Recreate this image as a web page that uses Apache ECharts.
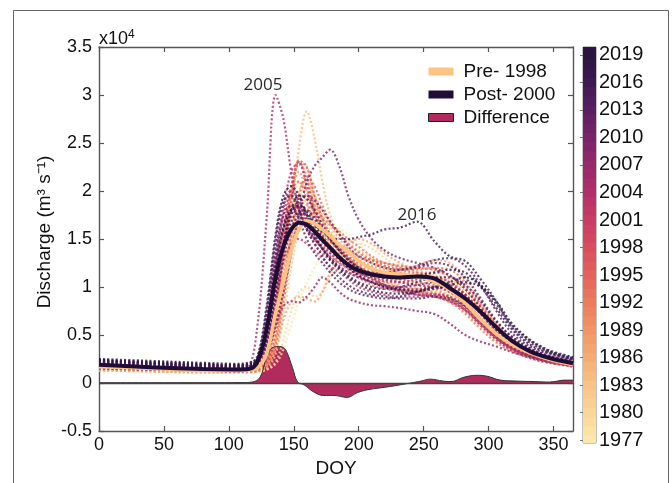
<!DOCTYPE html>
<html><head><meta charset="utf-8">
<script src="https://cdn.jsdelivr.net/npm/echarts@6/dist/echarts.min.js"></script>
<style>html,body{margin:0;padding:0;background:#fff}#c{width:672px;height:483px}</style>
</head><body><div id="c"></div>
<script>
// ---------- data ----------
const D = [0,40,80,105,115, 122,129,136,142,148,154,160,166,172,178,185,192, 200,210,220,232,245,258,270, 282,294,306,318,332,347,365];
const preMean  = [0.17,0.15,0.13,0.13,0.135, 0.16,0.3,0.73,1.05,1.38,1.6,1.69,1.66,1.6,1.53,1.44,1.37, 1.27,1.19,1.15,1.13,1.11,1.06,0.97, 0.83,0.66,0.51,0.4,0.31,0.245,0.19];
const postMean = [0.19,0.165,0.145,0.14,0.145, 0.22,0.55,1.1,1.42,1.6,1.67,1.65,1.58,1.49,1.41,1.31,1.23, 1.17,1.13,1.11,1.10,1.11,1.09,0.99, 0.88,0.74,0.58,0.44,0.33,0.26,0.205];
const diffDoy = [0,60,110,118,124,128,131,134,138,142, 145,149,153,158,165,173,181,191,199,207, 217,227,240,248,255,265,271,281,291,299, 309,322,335,347,359,365];
const diffVal = [0.003,0.003,0.004,0.01,0.06,0.23,0.33,0.37,0.38,0.37, 0.31,0.16,0.01,-0.02,-0.09,-0.13,-0.13,-0.15,-0.1,-0.07, -0.05,-0.03,0.0,0.02,0.04,0.02,0.015,0.06,0.08,0.07, 0.03,0.02,0.015,0.01,0.03,0.03];

const y1977 = [0.13,0.12,0.11,0.11,0.11, 0.12,0.14,0.2,0.35,0.6,0.85,1.05,1.2,1.35,1.5,1.6,1.55, 1.45,1.3,1.2,1.1,1.0,0.95,0.88, 0.78,0.62,0.48,0.36,0.27,0.21,0.17];
const y1978 = [0.14,0.13,0.12,0.12,0.12, 0.13,0.18,0.4,0.9,1.4,1.75,1.9,1.8,1.65,1.5,1.4,1.3, 1.22,1.15,1.12,1.1,1.05,1.0,0.92, 0.8,0.64,0.5,0.38,0.29,0.23,0.18];
const y1979 = [0.15,0.14,0.13,0.12,0.13, 0.14,0.2,0.5,1.1,1.7,2.1,2.0,1.8,1.6,1.45,1.35,1.3, 1.25,1.2,1.15,1.1,1.08,1.05,0.98, 0.85,0.68,0.52,0.4,0.3,0.24,0.19];
const y1980 = [0.14,0.13,0.12,0.12,0.12, 0.12,0.14,0.22,0.45,0.75,0.95,1.0,0.9,0.95,1.1,1.28,1.4, 1.45,1.4,1.3,1.2,1.15,1.1,1.05, 0.95,0.8,0.62,0.45,0.32,0.24,0.19];
const y1981 = [0.16,0.15,0.14,0.13,0.14, 0.16,0.3,0.75,1.3,1.75,1.95,1.85,1.65,1.5,1.4,1.3,1.22, 1.15,1.1,1.05,1.0,0.98,0.95,0.88, 0.75,0.58,0.43,0.33,0.26,0.21,0.18];
const y1982 = [0.13,0.12,0.11,0.11,0.11, 0.12,0.15,0.3,0.7,1.2,1.6,1.8,1.75,1.7,1.65,1.55,1.45, 1.35,1.25,1.2,1.15,1.12,1.12,1.08, 0.98,0.8,0.6,0.44,0.32,0.25,0.2];
const y1983 = [0.15,0.14,0.13,0.12,0.12, 0.13,0.17,0.35,0.8,1.4,1.9,2.05,1.9,1.75,1.6,1.45,1.35, 1.3,1.28,1.25,1.22,1.2,1.18,1.1, 0.95,0.75,0.56,0.42,0.31,0.24,0.19];
const y1984 = [0.16,0.15,0.13,0.13,0.13, 0.14,0.2,0.5,1.1,1.8,2.45,2.83,2.55,2.1,1.75,1.55,1.45, 1.38,1.3,1.22,1.15,1.1,1.05,0.98, 0.85,0.68,0.5,0.38,0.29,0.23,0.19];
const y1985 = [0.17,0.15,0.14,0.13,0.14, 0.16,0.28,0.65,1.1,1.5,1.7,1.72,1.65,1.55,1.45,1.35,1.28, 1.2,1.15,1.12,1.13,1.15,1.12,1.02, 0.86,0.66,0.48,0.36,0.27,0.22,0.18];
const y1986 = [0.15,0.14,0.13,0.13,0.13, 0.14,0.19,0.42,0.95,1.6,2.0,2.1,1.95,1.8,1.65,1.5,1.4, 1.32,1.25,1.2,1.18,1.22,1.28,1.25, 1.1,0.85,0.62,0.45,0.33,0.26,0.21];
const y1987 = [0.14,0.13,0.12,0.12,0.12, 0.14,0.22,0.55,1.15,1.85,2.3,2.25,1.95,1.7,1.5,1.38,1.3, 1.22,1.15,1.08,1.02,0.98,0.95,0.9, 0.8,0.64,0.48,0.36,0.27,0.22,0.18];
const y1988 = [0.13,0.12,0.11,0.11,0.11, 0.12,0.16,0.35,0.65,0.85,0.9,0.88,0.85,0.95,1.15,1.35,1.45, 1.5,1.45,1.35,1.25,1.15,1.05,0.95, 0.82,0.65,0.48,0.36,0.27,0.22,0.18];
const y1989 = [0.16,0.15,0.14,0.13,0.13, 0.15,0.25,0.65,1.3,1.95,2.2,2.0,1.75,1.6,1.5,1.42,1.35, 1.28,1.22,1.18,1.15,1.12,1.1,1.05, 0.92,0.72,0.53,0.4,0.3,0.24,0.19];
const y1990 = [0.15,0.14,0.13,0.12,0.13, 0.14,0.2,0.45,0.95,1.5,1.85,1.95,1.85,1.7,1.55,1.42,1.32, 1.22,1.12,1.05,1.0,0.95,0.9,0.84, 0.74,0.6,0.46,0.35,0.27,0.22,0.18];
const y1991 = [0.17,0.16,0.14,0.14,0.14, 0.16,0.3,0.8,1.5,2.05,2.3,2.15,1.85,1.62,1.48,1.38,1.3, 1.22,1.15,1.1,1.05,1.02,0.98,0.9, 0.76,0.6,0.46,0.35,0.27,0.22,0.18];
const y1992 = [0.16,0.15,0.14,0.13,0.14, 0.17,0.35,0.9,1.45,1.8,1.85,1.7,1.55,1.45,1.38,1.3,1.22, 1.15,1.08,1.02,0.98,0.95,0.92,0.85, 0.72,0.56,0.42,0.33,0.26,0.21,0.18];
const y1993 = [0.15,0.14,0.13,0.12,0.12, 0.13,0.17,0.4,0.85,1.35,1.7,1.85,1.8,1.72,1.65,1.58,1.5, 1.42,1.32,1.25,1.2,1.18,1.2,1.18, 1.05,0.82,0.6,0.44,0.33,0.26,0.21];
const y1994 = [0.17,0.16,0.15,0.14,0.15, 0.18,0.4,1.0,1.6,2.0,2.1,1.9,1.65,1.48,1.35,1.25,1.18, 1.1,1.02,0.98,0.95,0.93,0.92,0.88, 0.78,0.62,0.47,0.36,0.28,0.22,0.18];
const y1995 = [0.16,0.15,0.14,0.13,0.13, 0.15,0.22,0.5,1.0,1.55,1.95,2.15,2.05,1.85,1.68,1.55,1.45, 1.36,1.28,1.22,1.18,1.15,1.15,1.12, 1.0,0.8,0.6,0.45,0.34,0.27,0.21];
const y1996 = [0.18,0.17,0.15,0.14,0.15, 0.17,0.3,0.75,1.35,1.9,2.32,2.25,1.95,1.72,1.55,1.45,1.38, 1.32,1.28,1.25,1.22,1.2,1.18,1.12, 0.98,0.78,0.58,0.44,0.33,0.26,0.21];
const y1997 = [0.17,0.16,0.14,0.14,0.14, 0.16,0.27,0.7,1.4,2.0,2.28,2.1,1.8,1.6,1.48,1.4,1.32, 1.25,1.18,1.12,1.08,1.05,1.02,0.95, 0.82,0.64,0.48,0.37,0.28,0.23,0.19];
const y2001 = [0.18,0.16,0.15,0.14,0.15, 0.2,0.5,1.1,1.6,1.85,1.8,1.6,1.45,1.35,1.28,1.2,1.15, 1.1,1.05,1.0,0.97,0.95,0.93,0.88, 0.78,0.62,0.47,0.36,0.28,0.23,0.19];
const y2002 = [0.2,0.18,0.16,0.15,0.16, 0.22,0.6,1.3,1.75,1.95,1.85,1.65,1.5,1.4,1.32,1.25,1.2, 1.14,1.1,1.06,1.05,1.08,1.1,1.05, 0.92,0.72,0.54,0.4,0.3,0.24,0.2];
const y2003 = [0.17,0.15,0.14,0.13,0.14, 0.18,0.4,0.85,1.25,1.45,1.5,1.45,1.38,1.3,1.22,1.15,1.08, 1.0,0.95,0.92,0.9,0.9,0.92,0.9, 0.8,0.64,0.48,0.36,0.28,0.22,0.18];
const y2004 = [0.19,0.17,0.15,0.14,0.15, 0.2,0.55,1.2,1.8,2.2,2.3,2.05,1.75,1.55,1.42,1.32,1.25, 1.18,1.12,1.08,1.05,1.02,1.0,0.95, 0.84,0.67,0.5,0.38,0.29,0.23,0.19];
const y2005 = [0.15,0.14,0.13,0.13,0.16, 0.6,1.7,3.0,2.75,2.2,1.8,1.6,1.5,1.42,1.35,1.28,1.2, 1.12,1.05,1.0,0.95,0.92,0.9,0.86, 0.76,0.6,0.45,0.34,0.26,0.21,0.17];
const y2006 = [0.2,0.18,0.16,0.15,0.16, 0.22,0.55,1.15,1.6,1.8,1.82,1.75,1.6,1.48,1.38,1.3,1.22, 1.15,1.08,1.02,0.98,0.98,1.0,0.98, 0.9,0.74,0.56,0.42,0.32,0.25,0.2];
const y2007 = [0.18,0.16,0.15,0.14,0.15, 0.19,0.42,0.95,1.45,1.75,1.85,1.8,1.7,1.6,1.5,1.4,1.3, 1.2,1.1,1.02,0.96,0.92,0.9,0.85, 0.76,0.62,0.47,0.36,0.28,0.23,0.19];
const y2008 = [0.16,0.14,0.13,0.12,0.13, 0.16,0.3,0.6,0.8,0.85,0.84,0.9,1.0,1.1,1.05,0.95,0.88, 0.84,0.81,0.8,0.78,0.75,0.72,0.62, 0.5,0.43,0.38,0.32,0.27,0.22,0.18];
const y2009 = [0.21,0.19,0.17,0.16,0.17, 0.25,0.7,1.4,1.85,2.0,1.9,1.7,1.52,1.4,1.3,1.22,1.15, 1.1,1.05,1.02,1.0,1.02,1.05,1.02, 0.92,0.75,0.57,0.43,0.32,0.26,0.21];
const y2010 = [0.17,0.15,0.14,0.13,0.14, 0.17,0.3,0.6,0.95,1.35,1.75,2.09,2.26,2.35,2.43,2.26,1.95, 1.7,1.5,1.38,1.3,1.25,1.2,1.12, 0.98,0.78,0.58,0.44,0.33,0.26,0.21];
const y2011 = [0.22,0.2,0.18,0.17,0.18, 0.24,0.5,1.0,1.45,1.75,1.9,1.95,1.9,1.8,1.68,1.55,1.42, 1.32,1.25,1.2,1.18,1.2,1.25,1.22, 1.1,0.88,0.65,0.48,0.36,0.28,0.23];
const y2012 = [0.2,0.18,0.16,0.15,0.16, 0.23,0.65,1.35,1.75,1.85,1.7,1.5,1.35,1.25,1.15,1.05,0.98, 0.93,0.9,0.88,0.9,0.95,1.0,0.98, 0.88,0.72,0.55,0.42,0.32,0.25,0.21];
const y2013 = [0.23,0.2,0.18,0.17,0.18, 0.22,0.4,0.85,1.3,1.6,1.75,1.8,1.72,1.62,1.5,1.38,1.28, 1.2,1.15,1.15,1.18,1.22,1.28,1.3, 1.22,1.02,0.75,0.52,0.38,0.3,0.24];
const y2014 = [0.22,0.2,0.17,0.16,0.17, 0.26,0.75,1.5,1.9,1.95,1.8,1.6,1.45,1.32,1.2,1.1,1.02, 0.96,0.92,0.9,0.88,0.88,0.9,0.88, 0.8,0.66,0.5,0.39,0.3,0.25,0.21];
const y2015 = [0.21,0.19,0.17,0.16,0.17, 0.24,0.62,1.25,1.65,1.8,1.75,1.62,1.5,1.4,1.3,1.2,1.12, 1.05,1.0,0.98,1.0,1.05,1.1,1.1, 1.02,0.85,0.64,0.48,0.36,0.28,0.23];
const y2016 = [0.24,0.21,0.19,0.18,0.19, 0.25,0.55,1.05,1.45,1.68,1.78,1.75,1.65,1.58,1.52,1.5,1.5, 1.52,1.55,1.6,1.62,1.68,1.48,1.32, 1.27,1.08,0.85,0.58,0.42,0.32,0.25];
const y2017 = [0.23,0.21,0.19,0.18,0.19, 0.23,0.45,0.95,1.45,1.8,1.95,1.92,1.8,1.65,1.5,1.38,1.28, 1.2,1.14,1.1,1.1,1.12,1.15,1.18, 1.15,1.0,0.78,0.56,0.4,0.31,0.25];
const y2018 = [0.24,0.22,0.2,0.19,0.2, 0.28,0.8,1.55,1.95,2.05,1.95,1.75,1.55,1.4,1.28,1.18,1.1, 1.03,0.97,0.94,0.93,0.95,1.0,1.05, 1.1,1.02,0.82,0.6,0.44,0.33,0.26];
const y2019 = [0.25,0.23,0.21,0.2,0.21, 0.26,0.6,1.2,1.6,1.8,1.85,1.78,1.65,1.52,1.4,1.3,1.2, 1.12,1.05,1.0,0.97,0.96,0.98,1.02, 1.05,1.0,0.85,0.62,0.45,0.34,0.27];

const yearRows = [
  [1977,y1977],[1978,y1978],[1979,y1979],[1980,y1980],[1981,y1981],[1982,y1982],[1983,y1983],
  [1984,y1984],[1985,y1985],[1986,y1986],[1987,y1987],[1988,y1988],[1989,y1989],[1990,y1990],
  [1991,y1991],[1992,y1992],[1993,y1993],[1994,y1994],[1995,y1995],[1996,y1996],[1997,y1997],
  [2001,y2001],[2002,y2002],[2003,y2003],[2004,y2004],[2005,y2005],[2006,y2006],[2007,y2007],
  [2008,y2008],[2009,y2009],[2010,y2010],[2011,y2011],[2012,y2012],[2013,y2013],[2014,y2014],
  [2015,y2015],[2016,y2016],[2017,y2017],[2018,y2018],[2019,y2019]
];

const xTicks = [0,50,100,150,200,250,300,350];
const yTicks = [-0.5,0,0.5,1,1.5,2,2.5,3,3.5];
const cbTicks = [1977,1980,1983,1986,1989,1992,1995,1998,2001,2004,2007,2010,2013,2016,2019];
const cbYears = [];
for (let y = 1977; y <= 2019; y++) cbYears.push(y);
const cmapStops = ['#fbe9ab','#fad698','#f8c385','#f5ac74','#f19565','#ec7c5c','#e3625a','#d94d5f','#c93c66','#b2306a','#962a6a','#7a2468','#5a1f62','#3d1a52','#2a1540'];

// ---------- helpers ----------
function hex(c){return [parseInt(c.slice(1,3),16),parseInt(c.slice(3,5),16),parseInt(c.slice(5,7),16)];}
function cmap(year, alpha){
  let t = (year-1977)/(2019-1977); t = Math.max(0, Math.min(1, t));
  const f = t*(cmapStops.length-1); const i = Math.min(Math.floor(f), cmapStops.length-2); const u = f-i;
  const a = hex(cmapStops[i]), b = hex(cmapStops[i+1]);
  const r = a.map((v,k)=>Math.round(v+(b[k]-v)*u));
  return alpha==null ? 'rgb('+r.join(',')+')' : 'rgba('+r.join(',')+','+alpha+')';
}
const pairs = (xs, ys) => xs.map((x,i)=>[x, ys[i]]);

const FONT = 'Liberation Sans, Arial, Helvetica, sans-serif';
const AX = '#555';

const series = [];
yearRows.forEach(([yr, vals]) => {
  series.push({
    name: String(yr), type: 'line', xAxisIndex: 0, yAxisIndex: 0,
    data: pairs(D, vals), smooth: 0.35, symbol: 'none', silent: true,
    lineStyle: {color: cmap(yr, 0.8), width: 2.2, type: [2, 2.2]}
  });
});
series.push({
  name: 'Difference', type: 'line', xAxisIndex: 0, yAxisIndex: 0,
  data: pairs(diffDoy, diffVal), smooth: 0.4, symbol: 'none',
  itemStyle: {color: '#b22b5d'},
  lineStyle: {color: '#333', width: 1},
  areaStyle: {color: '#b22b5d', opacity: 1},
  markLine: {silent: true, symbol: 'none', label: {show: false},
    lineStyle: {color: '#444', width: 1.3, type: 'solid'}, data: [{yAxis: 0}]}
});
series.push({
  name: 'Pre- 1998', type: 'line', xAxisIndex: 0, yAxisIndex: 0,
  data: pairs(D, preMean), smooth: 0.35, symbol: 'none',
  itemStyle: {color: '#fcc383'}, lineStyle: {color: '#fcc383', width: 3.5}
});
series.push({
  name: 'Post- 2000', type: 'line', xAxisIndex: 0, yAxisIndex: 0,
  data: pairs(D, postMean), smooth: 0.35, symbol: 'none',
  itemStyle: {color: '#1f0d35'}, lineStyle: {color: '#1f0d35', width: 4}
});
series.push({
  name: 'colorbar', type: 'custom', xAxisIndex: 2, yAxisIndex: 2, clip: true, silent: true,
  data: cbYears.map(y => [0, y]), encode: {x: 0, y: 1},
  renderItem: function(params, api){
    const yr = api.value(1);
    const p0 = api.coord([0, yr - 0.5]);
    const p1 = api.coord([1, yr + 1]);
    return {type: 'rect', shape: {x: p0[0], y: p1[1], width: p1[0]-p0[0], height: p0[1]-p1[1]},
      style: {fill: cmap(yr)}};
  }
});

const baseX = {
  type: 'value', min: 0, max: 365, gridIndex: 0,
  axisLine: {show: true, onZero: false, lineStyle: {color: AX, width: 1.4}},
  axisTick: {show: true, inside: true, length: 5, customValues: xTicks, lineStyle: {color: AX, width: 1.2}},
  splitLine: {show: false}
};
const baseY = {
  type: 'value', min: -0.5, max: 3.5, gridIndex: 0,
  axisLine: {show: true, onZero: false, lineStyle: {color: AX, width: 1.4}},
  axisTick: {show: true, inside: true, length: 5, customValues: yTicks, lineStyle: {color: AX, width: 1.2}},
  splitLine: {show: false}
};

const option = {
  animation: false,
  backgroundColor: '#fff',
  textStyle: {fontFamily: FONT},
  grid: [
    {left: 99, top: 47, width: 474, height: 396, show: false},
    {left: 583, top: 47, width: 13, height: 396, show: true, borderColor: '#888', borderWidth: 1, backgroundColor: 'transparent'}
  ],
  xAxis: [
    Object.assign({}, baseX, {position: 'bottom',
      axisLabel: {show: true, customValues: xTicks, fontSize: 18, color: '#111', margin: 5, fontFamily: FONT},
      name: 'DOY', nameLocation: 'middle', nameGap: 28,
      nameTextStyle: {fontSize: 19, color: '#111', fontFamily: FONT}}),
    Object.assign({}, baseX, {position: 'top', axisLabel: {show: false}}),
    {type: 'value', min: 0, max: 1, gridIndex: 1, show: false}
  ],
  yAxis: [
    Object.assign({}, baseY, {position: 'left',
      axisLabel: {show: true, customValues: yTicks, fontSize: 18, color: '#111', margin: 7, fontFamily: FONT}}),
    Object.assign({}, baseY, {position: 'right', axisLabel: {show: false}}),
    {type: 'value', min: 1976.7, max: 2019.85, gridIndex: 1, position: 'right',
      axisLine: {show: false},
      axisTick: {show: true, inside: true, length: 3, customValues: cbTicks, lineStyle: {color: '#777'}},
      axisLabel: {show: true, customValues: cbTicks, fontSize: 20, color: '#111', margin: 3, fontFamily: FONT,
        formatter: function(v){ return String(Math.round(v)); }},
      splitLine: {show: false}}
  ],
  legend: {
    orient: 'vertical', left: 428, top: 62, padding: 0,
    itemWidth: 25, itemHeight: 8, itemGap: 4, icon: 'rect',
    textStyle: {fontSize: 19, color: '#111', fontFamily: FONT, padding: [0, 0, 0, 5]},
    data: [
      {name: 'Pre- 1998', itemStyle: {color: '#fcc383'}},
      {name: 'Post- 2000', itemStyle: {color: '#1f0d35'}},
      {name: 'Difference', itemStyle: {color: '#b22b5d', borderColor: '#222', borderWidth: 1}}
    ]
  },
  graphic: [
    {type: 'rect', silent: true, z: -10, shape: {x: 13.5, y: 10.5, width: 655, height: 480},
      style: {fill: 'none', stroke: '#666', lineWidth: 1}},
    {type: 'text', silent: true, x: 99, y: 29,
      style: {text: '{a|x10}{b|4}', rich: {a: {fontSize: 18, fontFamily: FONT, fill: '#111'},
        b: {fontSize: 12, fontFamily: FONT, fill: '#111', verticalAlign: 'top', padding: [0,0,8,0]}}}},
    {type: 'text', silent: true, x: 45, y: 232, rotation: Math.PI/2,
      style: {text: 'Discharge (m³ s⁻¹)', fontSize: 19, fontFamily: FONT, fill: '#111',
        textAlign: 'center', textVerticalAlign: 'middle'}},
    {type: 'text', silent: true, x: 263, y: 85,
      style: {text: '2005', fontSize: 17, fontFamily: 'Open Sans, Noto Sans, sans-serif', fill: '#2a2a2a',
        textAlign: 'center', textVerticalAlign: 'middle'}},
    {type: 'text', silent: true, x: 417, y: 215,
      style: {text: '2016', fontSize: 17, fontFamily: 'Open Sans, Noto Sans, sans-serif', fill: '#2a2a2a',
        textAlign: 'center', textVerticalAlign: 'middle'}}
  ],
  series: series
};

const chart = echarts.init(document.getElementById('c'), null, {renderer: 'canvas'});
chart.setOption(option);
</script>
</body></html>
